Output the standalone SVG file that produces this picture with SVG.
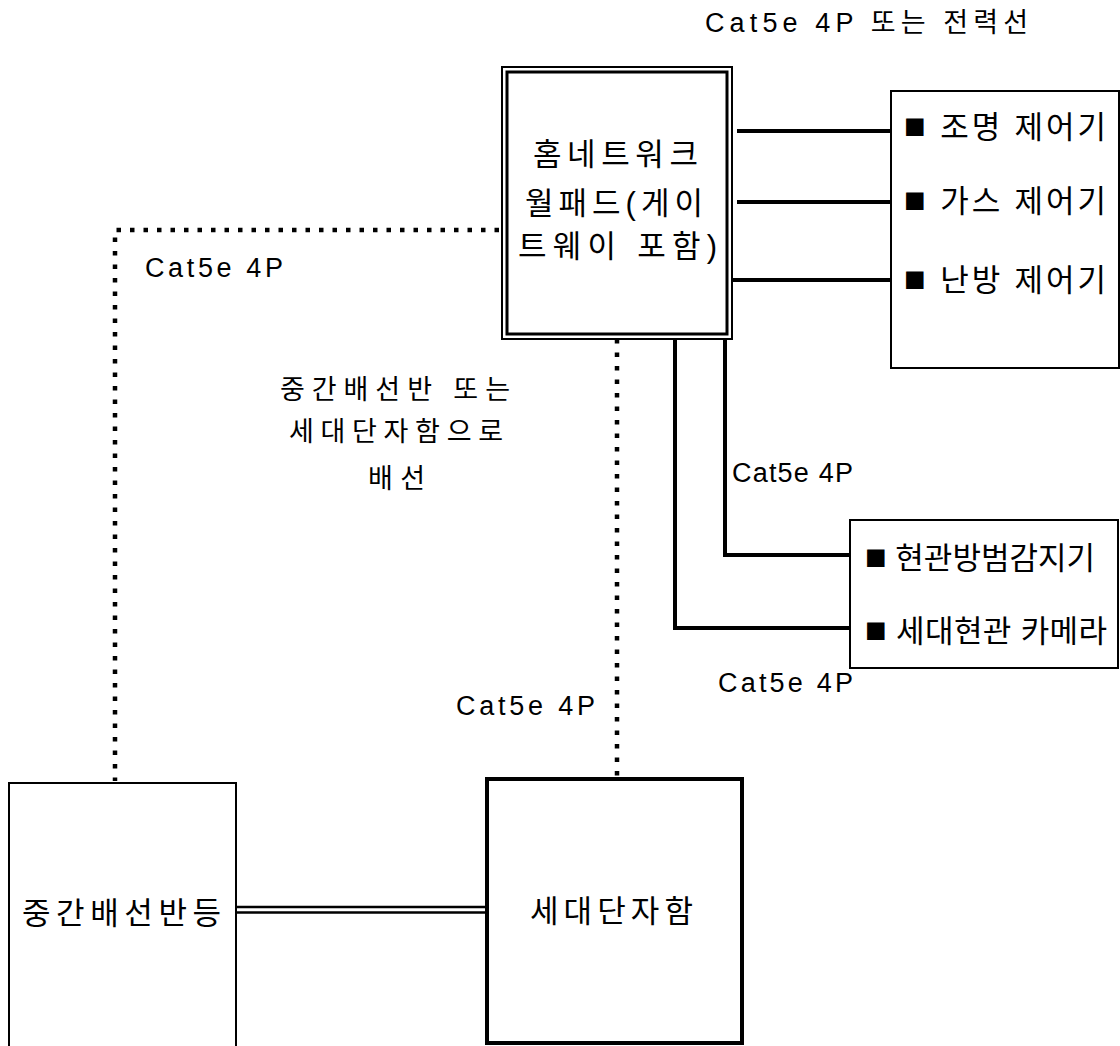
<svg xmlns="http://www.w3.org/2000/svg" width="1120" height="1046" viewBox="0 0 1120 1046">
<style>
  text { font-family: "Liberation Sans", "Noto Sans CJK KR", sans-serif; fill: #000; }
  .box { fill: #fff; stroke: #000; stroke-width: 2; }
  .lbl { font-size: 27px; }
  .big { font-size: 31px; }
  .sq { font-size: 36px; }
  .solid { fill: none; stroke: #000; stroke-width: 4; }
  .dot { fill: none; stroke: #000; stroke-width: 4.5; stroke-dasharray: 4.5 9; }
  .dbl { fill: none; stroke: #000; stroke-width: 2.5; }
</style>
<rect width="1120" height="1046" fill="#fff"/>

<g id="connectors">
  <path class="dot" d="M499 230 H115 V781"/>
  <path class="dot" d="M617 339 V779"/>
  <path class="solid" d="M737 131 H891"/>
  <path class="solid" d="M737 202 H891"/>
  <path class="solid" d="M733 280 H891"/>
  <path class="solid" d="M725 334 V555 H850"/>
  <path class="solid" d="M675 334 V628 H850"/>
  <path class="dbl" d="M236 907 H487 M236 912.5 H487"/>
</g>

<g id="label-top">
  <text class="lbl" x="705" y="32" textLength="323" lengthAdjust="spacing">Cat5e 4P 또는 전력선</text>
</g>

<g id="wallpad">
  <rect class="box" x="502" y="67" width="230" height="272"/>
  <rect x="507" y="72" width="220" height="262" fill="none" stroke="#000" stroke-width="3"/>
  <text class="big" x="533" y="165" textLength="165" lengthAdjust="spacing">홈네트워크</text>
  <text class="big" x="525" y="214" textLength="178" lengthAdjust="spacing">월패드(게이</text>
  <text class="big" x="518" y="257" textLength="199" lengthAdjust="spacing">트웨이 포함)</text>
</g>

<g id="controllers">
  <rect class="box" x="891" y="91" width="228" height="277"/>
  <text class="big" x="904" y="138" textLength="202" lengthAdjust="spacing"><tspan class="sq">■</tspan> 조명 제어기</text>
  <text class="big" x="904" y="212" textLength="202" lengthAdjust="spacing"><tspan class="sq">■</tspan> 가스 제어기</text>
  <text class="big" x="904" y="291" textLength="202" lengthAdjust="spacing"><tspan class="sq">■</tspan> 난방 제어기</text>
</g>

<g id="security">
  <rect class="box" x="850" y="520" width="268" height="148"/>
  <text class="big" x="865" y="569" textLength="230" lengthAdjust="spacing"><tspan class="sq">■</tspan> 현관방범감지기</text>
  <text class="big" x="865" y="642" textLength="242" lengthAdjust="spacing"><tspan class="sq">■</tspan> 세대현관 카메라</text>
</g>

<g id="labels">
  <text class="lbl" x="732" y="482" textLength="121" lengthAdjust="spacing">Cat5e 4P</text>
  <text class="lbl" x="718" y="692" textLength="135" lengthAdjust="spacing">Cat5e 4P</text>
  <text class="lbl" x="145" y="277" textLength="138" lengthAdjust="spacing">Cat5e 4P</text>
  <text class="lbl" x="456" y="715" textLength="139" lengthAdjust="spacing">Cat5e 4P</text>
  <text class="lbl" x="280" y="399" textLength="230" lengthAdjust="spacing">중간배선반 또는</text>
  <text class="lbl" x="289" y="441" textLength="214" lengthAdjust="spacing">세대단자함으로</text>
  <text class="lbl" x="368" y="488" textLength="57" lengthAdjust="spacing">배선</text>
</g>

<g id="distribution">
  <rect class="box" x="9" y="783" width="227" height="280"/>
  <text class="big" x="22" y="924" textLength="199" lengthAdjust="spacing">중간배선반등</text>
</g>

<g id="terminal">
  <rect x="487" y="779" width="255" height="264" fill="#fff" stroke="#000" stroke-width="4"/>
  <text class="big" x="530" y="922" textLength="163" lengthAdjust="spacing">세대단자함</text>
</g>
</svg>
